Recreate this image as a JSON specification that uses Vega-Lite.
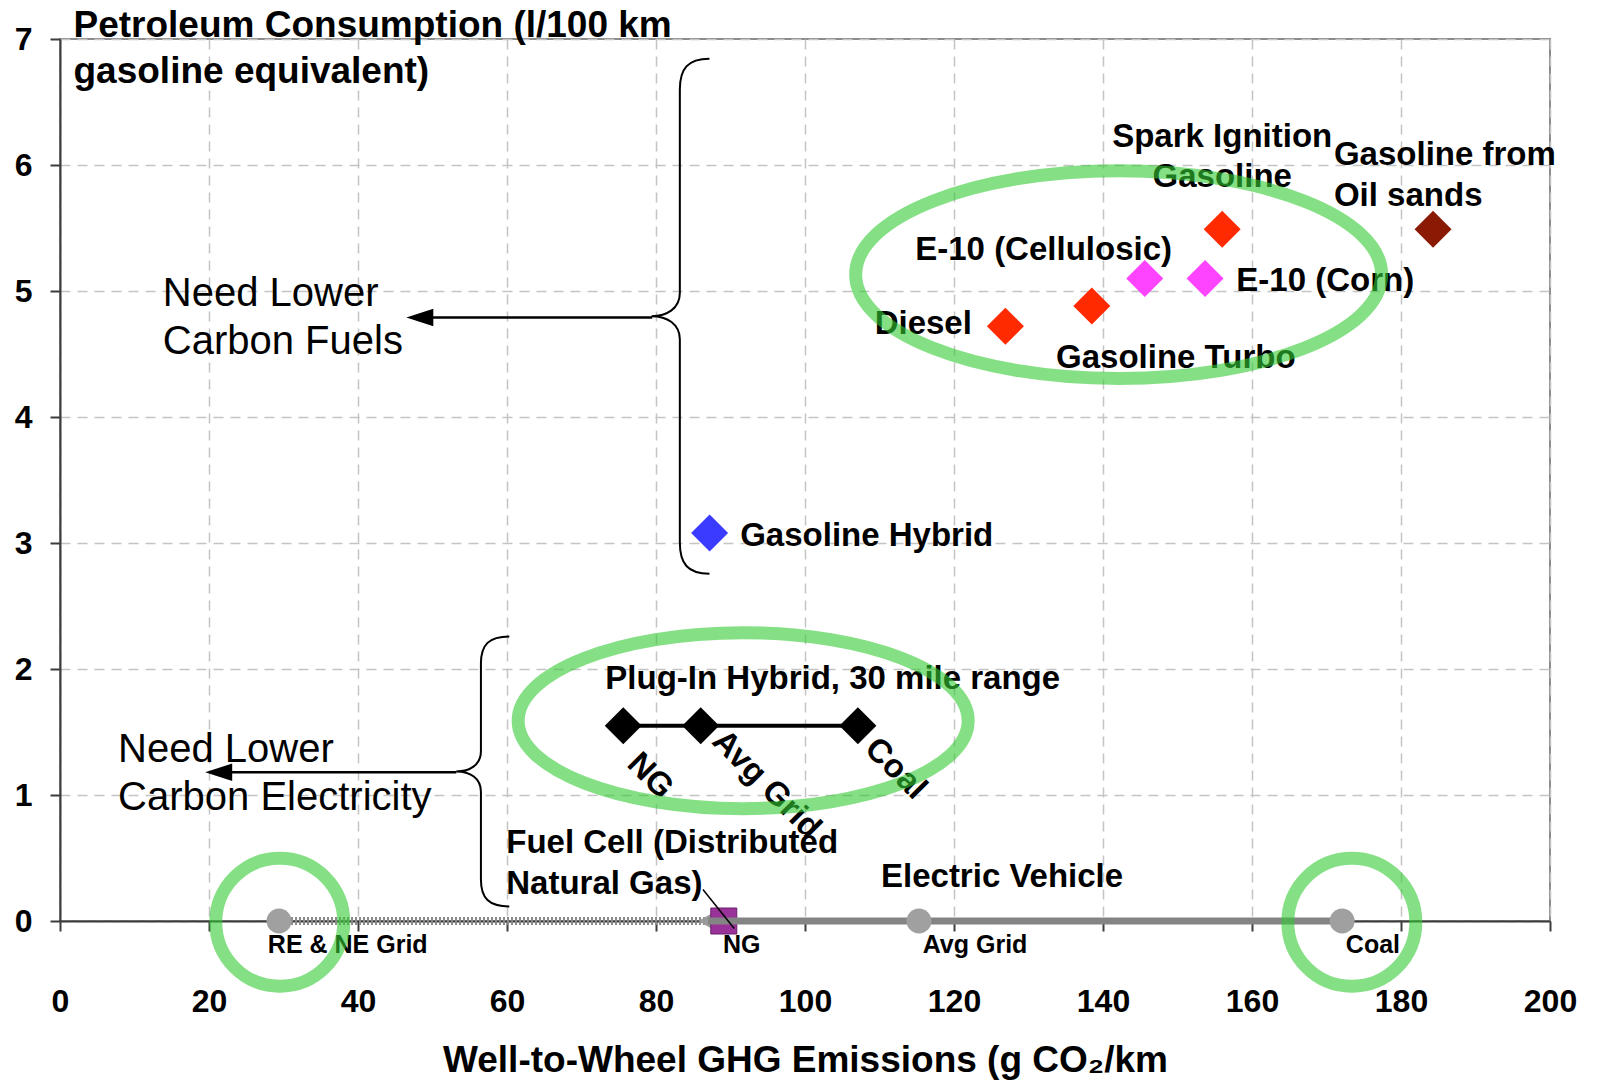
{
  "$schema": "https://vega.github.io/schema/vega-lite/v6.json",
  "width": 1490,
  "height": 882,
  "autosize": {"type": "none"},
  "padding": {"left": 60, "top": 39, "right": 47, "bottom": 159},
  "background": "white",
  "config": {
    "font": "Liberation Sans",
    "view": {"stroke": "#8c8c8c", "strokeWidth": 2},
    "axis": {
      "grid": true, "gridColor": "#c4c4c4", "gridDash": [10, 7], "gridWidth": 1.5,
      "domainColor": "#3c3c3c", "domainWidth": 2, "tickColor": "#3c3c3c", "tickWidth": 2, "tickSize": 10,
      "labelFont": "Liberation Sans", "labelFontWeight": "bold", "labelFontSize": 32, "labelColor": "#000000",
      "titleFont": "Liberation Sans", "titleFontWeight": "bold", "titleFontSize": 37, "titleColor": "#000000"
    }
  },
  "datasets": {
    "fuels": [
      {"name": "Spark Ignition Gasoline", "kind": "Gasoline", "x": 156.0, "y": 5.49},
      {"name": "Gasoline from Oil sands", "kind": "Oil sands", "x": 184.3, "y": 5.49},
      {"name": "E-10 (Cellulosic)", "kind": "E-10", "x": 145.6, "y": 5.10},
      {"name": "E-10 (Corn)", "kind": "E-10", "x": 153.7, "y": 5.10},
      {"name": "Gasoline Turbo", "kind": "Gasoline", "x": 138.5, "y": 4.88},
      {"name": "Diesel", "kind": "Gasoline", "x": 126.9, "y": 4.72},
      {"name": "Gasoline Hybrid", "kind": "Hybrid", "x": 87.2, "y": 3.08}
    ],
    "phev": [
      {"grid": "NG", "x": 75.6, "y": 1.55},
      {"grid": "Avg Grid", "x": 86.0, "y": 1.55},
      {"grid": "Coal", "x": 107.1, "y": 1.55}
    ],
    "ev": [
      {"grid": "RE & NE Grid", "x": 29.4, "y": 0},
      {"grid": "Avg Grid", "x": 115.3, "y": 0},
      {"grid": "Coal", "x": 172.1, "y": 0}
    ],
    "evNG": [{"grid": "NG", "x": 87.0, "y": 0}],
    "evRenewable": [{"x": 29.4, "x2": 87.0, "y": 0}],
    "evFossil": [{"x": 87.0, "x2": 172.1, "y": 0}],
    "fuelCell": [{"name": "Fuel Cell (Distributed Natural Gas)", "x": 89.1, "y": 0}],
    "leader": [{"x": 86.3, "y": 0.25, "x2": 90.5, "y2": -0.06}],
    "braceFuels": [{"x": 83.2, "y": 4.80}],
    "braceElec": [{"x": 56.5, "y": 1.187}],
    "arrowLines": [
      {"x": 48.5, "x2": 79.5, "y": 4.79},
      {"x": 21.5, "x2": 53.2, "y": 1.18}
    ],
    "arrowHeads": [
      {"x": 48.3, "y": 4.79},
      {"x": 21.3, "y": 1.18}
    ],
    "notes": [
      {"text": "Need Lower\nCarbon Fuels", "x": 13.8, "y": 4.88},
      {"text": "Need Lower\nCarbon Electricity", "x": 7.8, "y": 1.26}
    ],
    "labelsLeft": [
      {"text": "Gasoline from\nOil sands", "x": 171.0, "y": 6.0},
      {"text": "E-10 (Cellulosic)", "x": 114.8, "y": 5.25},
      {"text": "E-10 (Corn)", "x": 157.9, "y": 5.0},
      {"text": "Gasoline Turbo", "x": 133.7, "y": 4.39},
      {"text": "Gasoline Hybrid", "x": 91.3, "y": 2.98},
      {"text": "Plug-In Hybrid, 30 mile range", "x": 73.2, "y": 1.84},
      {"text": "Fuel Cell (Distributed\nNatural Gas)", "x": 59.9, "y": 0.54},
      {"text": "Electric Vehicle", "x": 110.2, "y": 0.27}
    ],
    "labelsCenter": [{"text": "Spark Ignition\nGasoline", "x": 156.0, "y": 6.14}],
    "labelsRight": [{"text": "Diesel", "x": 122.4, "y": 4.66}],
    "labelsSmall": [
      {"text": "RE & NE Grid", "x": 27.9, "y": -0.256},
      {"text": "NG", "x": 89.0, "y": -0.256},
      {"text": "Avg Grid", "x": 115.8, "y": -0.256},
      {"text": "Coal", "x": 172.6, "y": -0.256}
    ],
    "labelsRotated": [
      {"text": "NG", "x": 78.4, "y": 1.38},
      {"text": "Avg Grid", "x": 89.8, "y": 1.56},
      {"text": "Coal", "x": 110.3, "y": 1.50}
    ],
    "ellipseFuels": [{"x": 142.1, "y": 5.13}],
    "ellipsePhev": [{"x": 91.7, "y": 1.59}],
    "circlesEv": [{"x": 29.5, "y": -0.01}, {"x": 173.4, "y": -0.01}]
  },
  "encoding": {
    "x": {
      "field": "x", "type": "quantitative",
      "scale": {"domain": [0, 200], "nice": false, "zero": false},
      "axis": {
        "values": [0, 20, 40, 60, 80, 100, 120, 140, 160, 180, 200],
        "title": "Well-to-Wheel GHG Emissions (g CO₂/km",
        "labelPadding": 55, "labelFlush": false, "labelOverlap": false,
        "titleY": 150, "titleBaseline": "alphabetic"
      }
    },
    "y": {
      "field": "y", "type": "quantitative",
      "scale": {"domain": [0, 7], "nice": false, "zero": false},
      "axis": {
        "values": [0, 1, 2, 3, 4, 5, 6, 7],
        "title": ["Petroleum Consumption (l/100 km", "gasoline equivalent)"],
        "titleAngle": 0, "titleAlign": "left", "titleAnchor": "start",
        "titleX": 13, "titleY": -3, "titleBaseline": "alphabetic", "titleLineHeight": 46,
        "labelPadding": 18, "labelFlush": false, "labelOverlap": false
      }
    }
  },
  "layer": [
    {
      "data": {"name": "evRenewable"},
      "mark": {"type": "rule", "stroke": "#8a8a8a", "strokeWidth": 8, "strokeDash": [2, 2]},
      "encoding": {"x2": {"field": "x2"}}
    },
    {
      "data": {"name": "evNG"},
      "mark": {"type": "point", "shape": "triangle-left", "size": 500, "filled": true, "color": "#9a9a9a", "opacity": 1}
    },
    {
      "data": {"name": "fuelCell"},
      "mark": {"type": "point", "shape": "square", "size": 676, "filled": true, "color": "#993399", "stroke": "#6a1f6a", "strokeWidth": 1, "opacity": 1}
    },
    {
      "data": {"name": "evFossil"},
      "mark": {"type": "rule", "stroke": "#848484", "strokeWidth": 7},
      "encoding": {"x2": {"field": "x2"}}
    },
    {
      "data": {"name": "ev"},
      "mark": {"type": "point", "shape": "circle", "size": 625, "filled": true, "color": "#a0a0a0", "opacity": 1}
    },
    {
      "data": {"name": "leader"},
      "mark": {"type": "rule", "stroke": "#000000", "strokeWidth": 1.5},
      "encoding": {"x2": {"field": "x2"}, "y2": {"field": "y2"}}
    },
    {
      "data": {"name": "phev"},
      "mark": {"type": "line", "color": "#000000", "strokeWidth": 4}
    },
    {
      "data": {"name": "phev"},
      "mark": {"type": "point", "shape": "diamond", "size": 1369, "filled": true, "color": "#000000", "opacity": 1}
    },
    {
      "data": {"name": "fuels"},
      "mark": {"type": "point", "shape": "diamond", "size": 1369, "filled": true, "opacity": 1},
      "encoding": {
        "color": {
          "field": "kind", "type": "nominal", "legend": null,
          "scale": {"domain": ["Gasoline", "Oil sands", "E-10", "Hybrid"], "range": ["#ff2a00", "#8b1a05", "#ff44ff", "#3b3bff"]}
        }
      }
    },
    {
      "data": {"name": "braceFuels"},
      "mark": {"type": "point", "shape": "M 0.115 -1 C 0.03 -1 0 -0.96 0 -0.88 L 0 -0.09 C 0 -0.03 -0.05 0 -0.11 0 C -0.05 0 0 0.03 0 0.09 L 0 0.88 C 0 0.96 0.03 1 0.115 1", "size": 265225, "filled": false, "stroke": "#000000", "strokeWidth": 2, "opacity": 1}
    },
    {
      "data": {"name": "braceElec"},
      "mark": {"type": "point", "shape": "M 0.21 -1 C 0.06 -1 0 -0.94 0 -0.8 L 0 -0.15 C 0 -0.05 -0.08 0 -0.183 0 C -0.08 0 0 0.05 0 0.15 L 0 0.8 C 0 0.94 0.06 1 0.21 1", "size": 72900, "filled": false, "stroke": "#000000", "strokeWidth": 2, "opacity": 1}
    },
    {
      "data": {"name": "arrowLines"},
      "mark": {"type": "rule", "stroke": "#000000", "strokeWidth": 2.5},
      "encoding": {"x2": {"field": "x2"}}
    },
    {
      "data": {"name": "arrowHeads"},
      "mark": {"type": "point", "shape": "M -1 0 L 1 -0.65 L 1 0.65 Z", "size": 729, "filled": true, "color": "#000000", "opacity": 1}
    },
    {
      "data": {"name": "notes"},
      "mark": {"type": "text", "align": "left", "baseline": "alphabetic", "font": "Liberation Sans", "fontSize": 40, "lineBreak": "\n", "lineHeight": 48, "color": "#000000"},
      "encoding": {"text": {"field": "text"}}
    },
    {
      "data": {"name": "labelsLeft"},
      "mark": {"type": "text", "align": "left", "baseline": "alphabetic", "font": "Liberation Sans", "fontWeight": "bold", "fontSize": 33, "lineBreak": "\n", "lineHeight": 41, "color": "#000000"},
      "encoding": {"text": {"field": "text"}}
    },
    {
      "data": {"name": "labelsCenter"},
      "mark": {"type": "text", "align": "center", "baseline": "alphabetic", "font": "Liberation Sans", "fontWeight": "bold", "fontSize": 33, "lineBreak": "\n", "lineHeight": 40, "color": "#000000"},
      "encoding": {"text": {"field": "text"}}
    },
    {
      "data": {"name": "labelsRight"},
      "mark": {"type": "text", "align": "right", "baseline": "alphabetic", "font": "Liberation Sans", "fontWeight": "bold", "fontSize": 33, "color": "#000000"},
      "encoding": {"text": {"field": "text"}}
    },
    {
      "data": {"name": "labelsSmall"},
      "mark": {"type": "text", "align": "left", "baseline": "alphabetic", "font": "Liberation Sans", "fontWeight": "bold", "fontSize": 25, "color": "#000000"},
      "encoding": {"text": {"field": "text"}}
    },
    {
      "data": {"name": "labelsRotated"},
      "mark": {"type": "text", "align": "left", "baseline": "top", "angle": 45, "font": "Liberation Sans", "fontWeight": "bold", "fontSize": 33, "color": "#000000"},
      "encoding": {"text": {"field": "text"}}
    },
    {
      "data": {"name": "ellipseFuels"},
      "mark": {"type": "point", "shape": "M -1 0 C -1 -0.218 -0.552 -0.395 0 -0.395 C 0.552 -0.395 1 -0.218 1 0 C 1 0.218 0.552 0.395 0 0.395 C -0.552 0.395 -1 0.218 -1 0 Z", "size": 276676, "filled": false, "stroke": "#33cc33", "strokeWidth": 13, "strokeOpacity": 0.6, "opacity": 1}
    },
    {
      "data": {"name": "ellipsePhev"},
      "mark": {"type": "point", "shape": "M -1 0 C -1 -0.216 -0.552 -0.391 0 -0.391 C 0.552 -0.391 1 -0.216 1 0 C 1 0.216 0.552 0.391 0 0.391 C -0.552 0.391 -1 0.216 -1 0 Z", "size": 202500, "filled": false, "stroke": "#33cc33", "strokeWidth": 13, "strokeOpacity": 0.6, "opacity": 1}
    },
    {
      "data": {"name": "circlesEv"},
      "mark": {"type": "point", "shape": "circle", "size": 16384, "filled": false, "stroke": "#33cc33", "strokeWidth": 13, "strokeOpacity": 0.6, "opacity": 1}
    }
  ]
}
